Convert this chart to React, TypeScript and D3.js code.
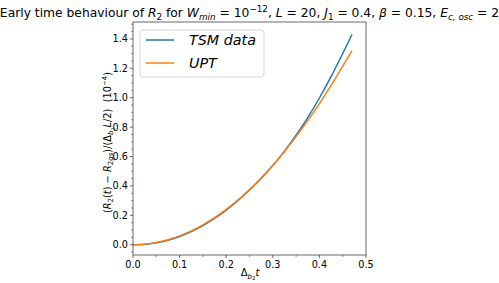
import React from "react";
import * as d3 from "d3";

const tValues = [0, 0.025, 0.05, 0.075, 0.1, 0.125, 0.15, 0.175, 0.2, 0.225, 0.25, 0.275, 0.3, 0.325, 0.35, 0.375, 0.4, 0.425, 0.45, 0.47];
const tsmData = [0, 0.003, 0.013, 0.031, 0.056, 0.089, 0.130, 0.179, 0.235, 0.300, 0.372, 0.451, 0.538, 0.636, 0.745, 0.865, 0.998, 1.143, 1.301, 1.43];
const uptData = [0, 0.004, 0.015, 0.034, 0.060, 0.094, 0.135, 0.184, 0.240, 0.304, 0.375, 0.454, 0.540, 0.634, 0.735, 0.844, 0.960, 1.084, 1.215, 1.32];
const xTicks = [0, 0.1, 0.2, 0.3, 0.4, 0.5];
const yTicks = [0, 0.2, 0.4, 0.6, 0.8, 1.0, 1.2, 1.4];
const seriesNames = ["TSM data", "UPT"];
const seriesColors = ["#1f77b4", "#ff7f0e"];

export default function App() {
  const W = 499, H = 283;
  const left = 133, right = 366, top = 22, bottom = 255;
  const x = d3.scaleLinear().domain([0, 0.5]).range([left, right]);
  const y = d3.scaleLinear().domain([-0.07, 1.515]).range([bottom, top]);
  const line = d3.line<[number, number]>().x(d => x(d[0])).y(d => y(d[1])).curve(d3.curveMonotoneX);
  const series = [tsmData, uptData];
  const xMinor = d3.range(0, 0.5001, 0.05).filter(v => !xTicks.some(t => Math.abs(t - v) < 1e-9));
  const yMinor = d3.range(-0.05, 1.51, 0.05).filter(v => !yTicks.some(t => Math.abs(t - v) < 1e-9));
  const font = "DejaVu Sans, sans-serif";
  const ts = 12.3, tss = 8.8;
  return (
    <div style={{ position: "absolute", left: 0, top: 0 }}>
      <svg width={W} height={H} style={{ display: "block", fontFamily: font }}>
        <rect x={0} y={0} width={W} height={H} fill="#fff" />
        <text x={249.5} y={17} textAnchor="middle" fontSize={ts} fill="#000">
          Early time behaviour of <tspan fontStyle="italic">R</tspan><tspan fontSize={tss} dy={3}>2</tspan><tspan dy={-3}> for </tspan>
          <tspan fontStyle="italic">W</tspan><tspan fontStyle="italic" fontSize={tss} dy={3}>min</tspan><tspan dy={-3}> = 10</tspan>
          <tspan fontSize={tss} dy={-5}>−12</tspan><tspan dy={5}>, </tspan><tspan fontStyle="italic">L</tspan> = 20, <tspan fontStyle="italic">J</tspan>
          <tspan fontSize={tss} dy={3}>1</tspan><tspan dy={-3}> = 0.4, </tspan><tspan fontStyle="italic">β</tspan> = 0.15, <tspan fontStyle="italic">E</tspan>
          <tspan fontStyle="italic" fontSize={tss} dy={3}>c, osc</tspan><tspan dy={-3}> = 2</tspan>
        </text>
        <defs>
          <clipPath id="plotclip"><rect x={left} y={top} width={right - left} height={bottom - top} /></clipPath>
        </defs>
        <g clipPath="url(#plotclip)">
          {series.map((s, i) => (
            <path key={i} d={line(tValues.map((t, j) => [t, s[j]] as [number, number])) || ""} fill="none" stroke={seriesColors[i]} strokeWidth={1.5} />
          ))}
        </g>
        <rect x={left} y={top} width={right - left} height={bottom - top} fill="none" stroke="#444" strokeWidth={0.8} />
        {xTicks.map(t => (
          <g key={"x" + t}>
            <line x1={x(t)} x2={x(t)} y1={bottom} y2={bottom + 3} stroke="#444" strokeWidth={0.8} />
            <text x={x(t)} y={bottom + 13} textAnchor="middle" fontSize={9.7} fill="#000">{t.toFixed(1)}</text>
          </g>
        ))}
        {xMinor.map(t => (
          <line key={"xm" + t} x1={x(t)} x2={x(t)} y1={bottom} y2={bottom + 2} stroke="#444" strokeWidth={0.6} />
        ))}
        {yTicks.map(t => (
          <g key={"y" + t}>
            <line x1={left - 3} x2={left} y1={y(t)} y2={y(t)} stroke="#444" strokeWidth={0.8} />
            <text x={left - 5} y={y(t) + 3.5} textAnchor="end" fontSize={9.7} fill="#000">{t.toFixed(1)}</text>
          </g>
        ))}
        {yMinor.map(t => (
          <line key={"ym" + t} x1={left - 2} x2={left} y1={y(t)} y2={y(t)} stroke="#444" strokeWidth={0.6} />
        ))}
        <text x={250} y={276} textAnchor="middle" fontSize={10} fill="#000">
          Δ<tspan fontStyle="italic" fontSize={7} dy={2.5}>b</tspan><tspan fontSize={5.5} dy={1.5}>2</tspan><tspan fontStyle="italic" dy={-4}>t</tspan>
        </text>
        <text transform={`translate(110.5,${(top + bottom) / 2 + 4}) rotate(-90)`} textAnchor="middle" fontSize={9.8} fill="#000">
          (<tspan fontStyle="italic">R</tspan><tspan fontSize={7} dy={2.5}>2</tspan><tspan dy={-2.5}>(</tspan><tspan fontStyle="italic">t</tspan>) − <tspan fontStyle="italic">R</tspan>
          <tspan fontSize={7} dy={2.5}>2</tspan><tspan fontSize={7} fontStyle="italic">gs</tspan><tspan dy={-2.5}>)/(Δ</tspan>
          <tspan fontStyle="italic" fontSize={7} dy={2.5}>b</tspan><tspan fontSize={5} dy={1.5}>2</tspan><tspan fontStyle="italic" dy={-4}>L</tspan>/2){"\u00a0 "}(10<tspan fontSize={7} dy={-4}>−4</tspan><tspan dy={4}>)</tspan>
        </text>
        <g>
          <rect x={140} y={30} width={124} height={47} rx={3} fill="#fff" fillOpacity={0.8} stroke="#ccc" strokeWidth={0.8} />
          {seriesNames.map((n, i) => (
            <g key={n}>
              <line x1={146} x2={174} y1={40 + i * 23} y2={40 + i * 23} stroke={seriesColors[i]} strokeWidth={1.5} />
              <text x={189} y={45 + i * 23} fontSize={14.3} fontStyle="italic" fill="#000">{n}</text>
            </g>
          ))}
        </g>
      </svg>
    </div>
  );
}
